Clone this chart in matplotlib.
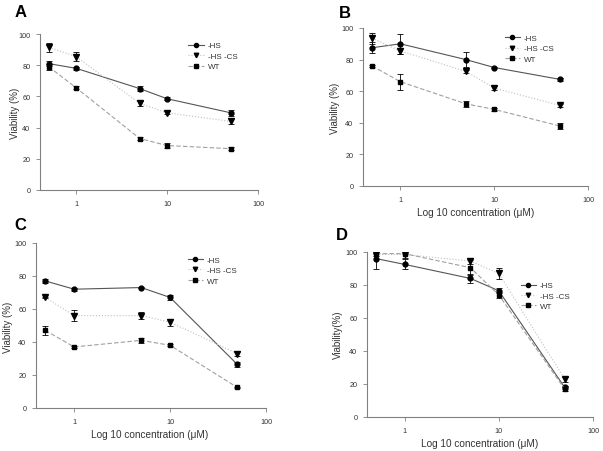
import matplotlib
import numpy as np

matplotlib.use('Agg')
import matplotlib.pyplot as plt

plt.rcParams['font.family'] = ['Liberation Sans', 'DejaVu Sans']

conc = [0.5, 1, 5, 10, 50]
series_names = ['-HS', '-HS -CS', 'WT']

# panel A
a_hs = [81, 78, 65, 58.5, 49.5]
a_hs_err = [1.5, 1, 1.5, 1, 2]
a_hscs = [91.5, 85.5, 55.5, 49.5, 44]
a_hscs_err = [3, 3, 1.5, 1, 2]
a_wt = [79, 65.5, 33, 28.5, 26.5]
a_wt_err = [2, 1, 1, 1.5, 1]

# panel B
b_hs = [87.5, 90, 80, 75, 67.5]
b_hs_err = [3.5, 6.5, 4.5, 0.5, 1]
b_hscs = [93.5, 85.5, 72.5, 62, 51]
b_hscs_err = [3.5, 2, 1, 1.5, 1]
b_wt = [76, 66, 52, 48.5, 38]
b_wt_err = [0.5, 5, 2, 1, 2]

# panel C
c_hs = [77, 72, 73, 67, 26.5]
c_hs_err = [1, 1, 0.5, 1.5, 1.5]
c_hscs = [67, 56, 56, 52, 33]
c_hscs_err = [0.5, 3.5, 2, 2, 1.5]
c_wt = [47, 37, 41, 38, 12.5]
c_wt_err = [2.5, 0.5, 1.5, 0.5, 0.5]

# panel D
d_hs = [96, 92.5, 84, 76.5, 18]
d_hs_err = [6.5, 3, 2.5, 1.5, 1]
d_hscs = [98.5, 98.5, 94.5, 87, 23]
d_hscs_err = [1, 2, 2, 3.5, 1.5]
d_wt = [99, 99, 90.5, 74, 17]
d_wt_err = [0.5, 0.5, 4.5, 2, 1]

W, H = 603, 452
fig = plt.figure(figsize=(W / 100, H / 100), dpi=100)


def make_axes(l, r, t, b):
    return fig.add_axes([l / W, 1 - b / H, (r - l) / W, (b - t) / H])


def px_text(x, y, s, **kw):
    # place text using pixel coords measured from the top-left corner
    fig.text(x / W, 1 - y / H, s, **kw)


def draw_panel(ax, hs, hs_err, hscs, hscs_err, wt, wt_err, legend_pos):
    l1 = ax.errorbar(conc, hs, yerr=hs_err, color='#555555', lw=0.8, ls='-',
                     marker='o', ms=3.5, mfc='black', mec='black',
                     ecolor='black', elinewidth=0.6, capsize=2, capthick=0.6)
    l2 = ax.errorbar(conc, hscs, yerr=hscs_err, color='#c0c0c0', lw=0.8, ls=':',
                     marker='v', ms=3.8, mfc='black', mec='black',
                     ecolor='black', elinewidth=0.6, capsize=2, capthick=0.6)
    l3 = ax.errorbar(conc, wt, yerr=wt_err, color='#a0a0a0', lw=0.8, ls='--',
                     dashes=(4, 2), marker='s', ms=3.3, mfc='black', mec='black',
                     ecolor='black', elinewidth=0.6, capsize=2, capthick=0.6)
    ax.set_xscale('log')
    ax.set_xlim(0.4, 100)
    ax.set_ylim(0, 100)
    ax.set_xticks([1, 10, 100])
    ax.set_xticklabels(['1', '10', '100'])
    ax.xaxis.set_minor_locator(matplotlib.ticker.NullLocator())
    ax.set_yticks([0, 20, 40, 60, 80, 100])
    for s in ['top', 'right']:
        ax.spines[s].set_visible(False)
    for s in ['left', 'bottom']:
        ax.spines[s].set_color('#808080')
        ax.spines[s].set_linewidth(0.8)
    ax.tick_params(labelsize=5.2, length=3, width=0.6, color='#808080',
                   labelcolor='#333333', pad=4)
    ax.legend([l1[0], l2[0], l3[0]], series_names, loc='upper left',
              bbox_to_anchor=legend_pos, frameon=False, fontsize=5.8,
              handlelength=1.9, labelspacing=0.35, handletextpad=0.5,
              borderpad=0, borderaxespad=0, labelcolor='#333333',
              markerscale=0.85)


ax_a = make_axes(40, 258, 35, 191)
draw_panel(ax_a, a_hs, a_hs_err, a_hscs, a_hscs_err, a_wt, a_wt_err, (0.68, 0.95))

ax_b = make_axes(363, 588, 29, 187)
draw_panel(ax_b, b_hs, b_hs_err, b_hscs, b_hscs_err, b_wt, b_wt_err, (0.63, 0.96))

ax_c = make_axes(36, 266, 244, 409)
draw_panel(ax_c, c_hs, c_hs_err, c_hscs, c_hscs_err, c_wt, c_wt_err, (0.66, 0.92))

ax_d = make_axes(367, 593, 253, 418)
draw_panel(ax_d, d_hs, d_hs_err, d_hscs, d_hscs_err, d_wt, d_wt_err, (0.68, 0.82))

# panel letters
letter_kw = dict(fontsize=12, fontweight='bold', ha='left', va='baseline')
px_text(15, 17, 'A', **letter_kw)
px_text(339, 18, 'B', **letter_kw)
px_text(14, 230, 'C', **letter_kw)
px_text(336, 240, 'D', **letter_kw)

# y labels
ylab_kw = dict(fontsize=7, rotation=90, ha='center', va='center', color='#333333')
px_text(15, 113, 'Viability (%)', **ylab_kw)
px_text(335, 108, 'Viability (%)', **ylab_kw)
px_text(8, 327, 'Viability (%)', **ylab_kw)
px_text(338, 335, 'Viability(%)', **ylab_kw)

# x labels
xlab_kw = dict(fontsize=7.2, ha='center', va='center', color='#333333')
px_text(476, 213, 'Log 10 concentration (\u03bcM)', **xlab_kw)
px_text(150, 435, 'Log 10 concentration (\u03bcM)', **xlab_kw)
px_text(480, 444, 'Log 10 concentration (\u03bcM)', **xlab_kw)

fig.savefig('out.png', dpi=100)
